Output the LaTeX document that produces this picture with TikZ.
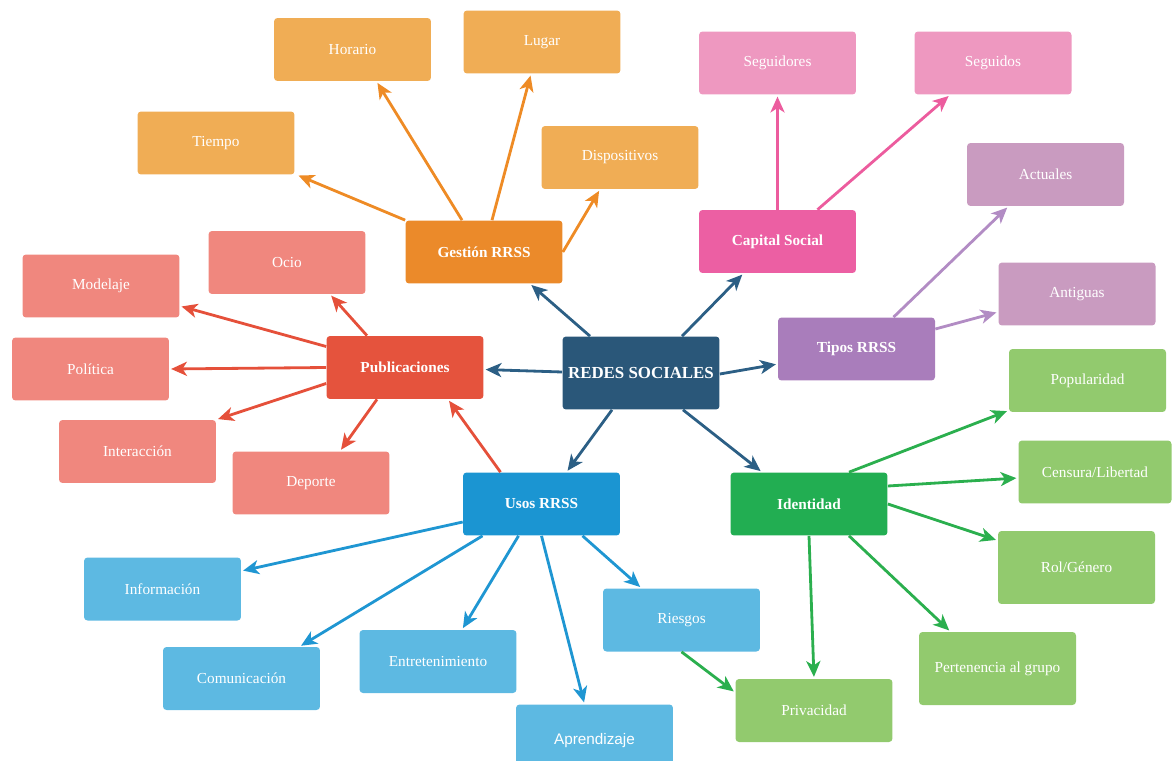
\documentclass[tikz,border=0pt]{standalone}
\usepackage{fontspec}
\setmainfont{Liberation Serif}
\newfontfamily\arialfont{Liberation Sans}
\usetikzlibrary{shapes,arrows.meta,positioning,calc}

\definecolor{central}{HTML}{2A5779}
\definecolor{naranjaF}{HTML}{EB8A2A}
\definecolor{naranjaC}{HTML}{F0AD55}
\definecolor{rosaF}{HTML}{EC5FA3}
\definecolor{rosaC}{HTML}{EE98C0}
\definecolor{moradoF}{HTML}{A97DBB}
\definecolor{moradoC}{HTML}{C99BC0}
\definecolor{verdeF}{HTML}{22AE52}
\definecolor{verdeC}{HTML}{92CA6E}
\definecolor{azulF}{HTML}{1B95D2}
\definecolor{azulC}{HTML}{5DB9E2}
\definecolor{rojoF}{HTML}{E5533D}
\definecolor{rojoC}{HTML}{F0877E}
\definecolor{fCentral}{HTML}{2C5F85}
\definecolor{fNaranja}{HTML}{EE8B25}
\definecolor{fRosa}{HTML}{EC5C9E}
\definecolor{fMorado}{HTML}{B28CC4}
\definecolor{fRojo}{HTML}{E5503A}
\definecolor{fAzul}{HTML}{1F96D2}
\definecolor{fVerde}{HTML}{2BAF4E}

\begin{document}
\begin{tikzpicture}[x=0.02cm,y=-0.02cm,
  caja/.style={rectangle,rounded corners=2pt,minimum width=3.14cm,minimum height=1.26cm,
    text=white,inner sep=2pt,font=\fontsize{8.7}{10}\selectfont},
  tema/.style={caja,font=\bfseries\fontsize{8.7}{10}\selectfont},
  flecha/.style={-{Stealth[length=9pt,width=8pt,inset=2.5pt]},line width=1.6pt,shorten >=1pt}]

\useasboundingbox (0,0) rectangle (1172,760);
\clip (0,0) rectangle (1172,760);

% --- Nodo central ---
\node[caja,fill=central,minimum height=1.46cm,font=\bfseries\fontsize{9.6}{11}\selectfont] (redes) at (641,373) {REDES SOCIALES};

% --- Temas ---
\node[tema,fill=naranjaF] (gestion) at (484,252) {Gestión RRSS};
\node[tema,fill=rosaF] (capital) at (777.5,241.5) {Capital Social};
\node[tema,fill=rojoF] (publ) at (405,367.5) {Publicaciones};
\node[tema,fill=moradoF] (tipos) at (856.5,349) {Tipos RRSS};
\node[tema,fill=azulF] (usos) at (541.5,504) {Usos RRSS};
\node[tema,fill=verdeF] (ident) at (809,504) {Identidad};

% --- Gestion ---
\node[caja,fill=naranjaC] (horario) at (352.5,49.5) {Horario};
\node[caja,fill=naranjaC] (lugar) at (542,42) {Lugar};
\node[caja,fill=naranjaC] (tiempo) at (216,143) {Tiempo};
\node[caja,fill=naranjaC] (dispos) at (620,157.5) {Dispositivos};

% --- Capital social y tipos ---
\node[caja,fill=rosaC] (seguidores) at (777.5,63) {Seguidores};
\node[caja,fill=rosaC] (seguidos) at (993,63) {Seguidos};
\node[caja,fill=moradoC] (actuales) at (1045.5,174.5) {Actuales};
\node[caja,fill=moradoC] (antiguas) at (1077,294) {Antiguas};

% --- Publicaciones ---
\node[caja,fill=rojoC] (ocio) at (287,262.5) {Ocio};
\node[caja,fill=rojoC] (modelaje) at (101,286) {Modelaje};
\node[caja,fill=rojoC] (politica) at (90.5,369) {Política};
\node[caja,fill=rojoC] (interac) at (137.5,451.5) {Interacción};
\node[caja,fill=rojoC] (deporte) at (311,483) {Deporte};

% --- Usos ---
\node[caja,fill=azulC] (info) at (162.5,589) {Información};
\node[caja,fill=azulC] (comunic) at (241.5,678.5) {Comunicación};
\node[caja,fill=azulC] (entret) at (438,661.5) {Entretenimiento};
\node[caja,fill=azulC,minimum height=1.46cm,font=\arialfont\fontsize{8.7}{10}\selectfont] (aprend) at (594.5,741) {Aprendizaje};
\node[caja,fill=azulC] (riesgos) at (681.5,620) {Riesgos};

% --- Identidad ---
\node[caja,fill=verdeC] (popular) at (1087.5,380.5) {Popularidad};
\node[caja,fill=verdeC,minimum width=3.06cm] (censura) at (1095,472) {Censura/Libertad};
\node[caja,fill=verdeC,minimum height=1.46cm] (rol) at (1076.5,567.5) {Rol/Género};
\node[caja,fill=verdeC,minimum height=1.46cm] (pertenencia) at (997.5,668.5) {Pertenencia al grupo};
\node[caja,fill=verdeC] (privac) at (814,710.5) {Privacidad};

% --- Flechas del centro ---
\draw[flecha,fCentral] ($(redes.north)+(-51,0)$) -- ($(gestion.south)+(46,0)$);
\draw[flecha,fCentral] ($(redes.north)+(41,0)$) -- ($(capital.south)+(-34,0)$);
\draw[flecha,fCentral] ($(redes.west)+(0,-1)$) -- ($(publ.east)+(0,2)$);
\draw[flecha,fCentral] ($(redes.east)+(0,1)$) -- ($(tipos.west)+(0,15)$);
\draw[flecha,fCentral] ($(redes.south)+(-29,0)$) -- ($(usos.north)+(25,0)$);
\draw[flecha,fCentral] ($(redes.south)+(42,0)$) -- ($(ident.north)+(-47,0)$);

% --- Flechas naranjas ---
\draw[flecha,fNaranja] (gestion.north west) -- ($(tiempo.south east)+(2,0)$);
\draw[flecha,fNaranja] ($(gestion.north)+(-22,0)$) -- ($(horario.south)+(24,0)$);
\draw[flecha,fNaranja] ($(gestion.north)+(8,0)$) -- ($(lugar.south)+(-11,0)$);
\draw[flecha,fNaranja] (gestion.east) -- ($(dispos.south)+(-20,0)$);

% --- Flechas rosas y moradas ---
\draw[flecha,fRosa] (capital.north) -- (seguidores.south);
\draw[flecha,fRosa] ($(capital.north)+(40,0)$) -- ($(seguidos.south)+(-43,0)$);
\draw[flecha,fMorado] ($(tipos.north)+(37,0)$) -- ($(actuales.south)+(-37,0)$);
\draw[flecha,fMorado] ($(tipos.east)+(0,-20)$) -- ($(antiguas.west)+(0,18)$);

% --- Flechas rojas ---
\draw[flecha,fRojo] ($(publ.north)+(-38,0)$) -- ($(ocio.south)+(43,0)$);
\draw[flecha,fRojo] ($(publ.west)+(0,-21)$) -- ($(modelaje.east)+(0,20)$);
\draw[flecha,fRojo] (publ.west) -- (politica.east);
\draw[flecha,fRojo] ($(publ.west)+(0,16)$) -- (interac.north east);
\draw[flecha,fRojo] ($(publ.south)+(-28,0)$) -- ($(deporte.north)+(29,0)$);
\draw[flecha,fRojo] ($(usos.north)+(-41,0)$) -- ($(publ.south)+(43,0)$);

% --- Flechas azules ---
\draw[flecha,fAzul] ($(usos.west)+(0,18)$) -- ($(info.east)+(0,-18)$);
\draw[flecha,fAzul] ($(usos.south)+(-59,0)$) -- ($(comunic.north)+(58,0)$);
\draw[flecha,fAzul] ($(usos.south)+(-23,0)$) -- ($(entret.north)+(24,0)$);
\draw[flecha,fAzul] (usos.south) -- ($(aprend.north)+(-10,0)$);
\draw[flecha,fAzul] ($(usos.south)+(41,0)$) -- ($(riesgos.north)+(-40,0)$);

% --- Flechas verdes ---
\draw[flecha,fVerde] ($(ident.north)+(40,0)$) -- ($(popular.west)+(0,30)$);
\draw[flecha,fVerde] ($(ident.east)+(0,-18)$) -- ($(censura.west)+(0,6)$);
\draw[flecha,fVerde] (ident.east) -- ($(rol.west)+(0,-27)$);
\draw[flecha,fVerde] ($(ident.south)+(40,0)$) -- ($(pertenencia.north)+(-47,0)$);
\draw[flecha,fVerde] (ident.south) -- (privac.north);
\draw[flecha,fVerde] (riesgos.south) -- ($(privac.west)+(0,-18)$);

\end{tikzpicture}
\end{document}
